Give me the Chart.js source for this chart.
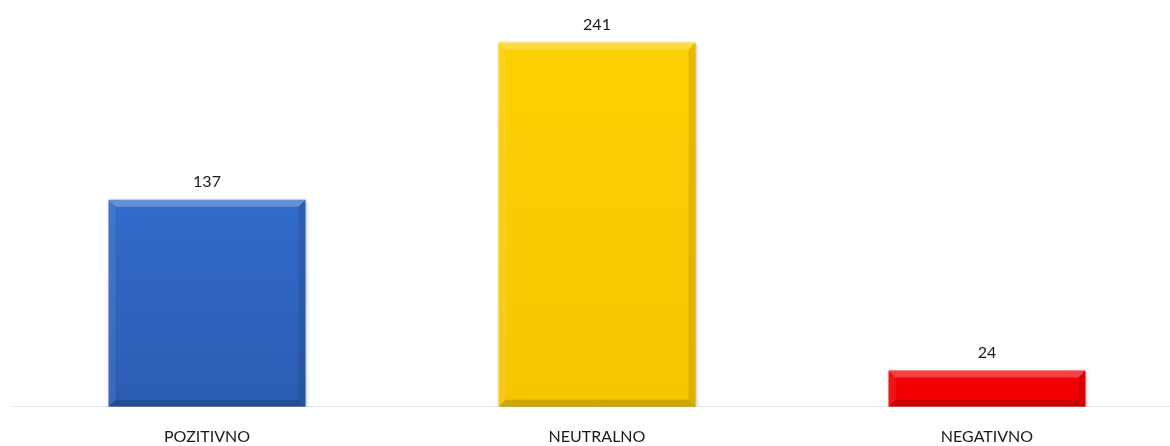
<!DOCTYPE html>
<html>
<head>
<meta charset="utf-8">
<script src="https://cdn.jsdelivr.net/npm/chart.js@4.4.1/dist/chart.umd.min.js"></script>
<style>
    html, body { margin: 0; padding: 0; background: #fff; overflow: hidden; }
    #wrap { width: 1182px; height: 466px; }
</style>
</head>
<body>
<div id="wrap"><canvas id="chart" width="1182" height="466"></canvas></div>
<script>
// --- Data ---
const categories = ['POZITIVNO', 'NEUTRALNO', 'NEGATIVNO'];
const counts = [137, 241, 24];
const barColors = [
    { top: '#3877df', bottom: '#2b5cb2' },
    { top: '#ffd000', bottom: '#f7c500' },
    { top: '#ff1212', bottom: '#f00000' }
];

const FONT = 'Lato, "Open Sans", sans-serif';

// Gradient per bar over the plot height
function barGradient(ctx) {
    const chart = ctx.chart;
    const c = barColors[ctx.dataIndex];
    const area = chart.chartArea;
    if (!area || !c) return c ? c.top : '#888';
    const g = chart.ctx.createLinearGradient(0, area.top, 0, area.bottom);
    g.addColorStop(0, c.top);
    g.addColorStop(1, c.bottom);
    return g;
}

// --- Bevel + shadow on bars ---
const bevelPlugin = {
    id: 'bevel',
    beforeDatasetDraw(chart) {
        const ctx = chart.ctx;
        ctx.save();
        ctx.shadowColor = 'rgba(0,0,0,0.35)';
        ctx.shadowBlur = 4;
        ctx.shadowOffsetX = 1;
        ctx.shadowOffsetY = 1;
    },
    afterDatasetDraw(chart) {
        const ctx = chart.ctx;
        ctx.restore();
        const meta = chart.getDatasetMeta(0);
        const b = 7; // bevel size
        meta.data.forEach((bar) => {
            const { x, y, base, width } = bar.getProps(['x', 'y', 'base', 'width'], true);
            const l = x - width / 2, r = x + width / 2, t = y, btm = base;
            const bb = Math.min(b, (btm - t) / 2);
            ctx.save();
            // top highlight
            ctx.fillStyle = 'rgba(255,255,255,0.25)';
            ctx.beginPath();
            ctx.moveTo(l, t); ctx.lineTo(r, t); ctx.lineTo(r - bb, t + bb); ctx.lineTo(l + bb, t + bb);
            ctx.closePath(); ctx.fill();
            // left highlight
            ctx.fillStyle = 'rgba(255,255,255,0.08)';
            ctx.beginPath();
            ctx.moveTo(l, t); ctx.lineTo(l + bb, t + bb); ctx.lineTo(l + bb, btm - bb); ctx.lineTo(l, btm);
            ctx.closePath(); ctx.fill();
            // right shade
            ctx.fillStyle = 'rgba(0,0,0,0.10)';
            ctx.beginPath();
            ctx.moveTo(r, t); ctx.lineTo(r, btm); ctx.lineTo(r - bb, btm - bb); ctx.lineTo(r - bb, t + bb);
            ctx.closePath(); ctx.fill();
            // bottom shade
            ctx.fillStyle = 'rgba(0,0,0,0.16)';
            ctx.beginPath();
            ctx.moveTo(l, btm); ctx.lineTo(r, btm); ctx.lineTo(r - bb, btm - bb); ctx.lineTo(l + bb, btm - bb);
            ctx.closePath(); ctx.fill();
            ctx.restore();
        });
    }
};

// --- Value labels above bars ---
const valueLabels = {
    id: 'valueLabels',
    afterDatasetsDraw(chart) {
        const ctx = chart.ctx;
        const meta = chart.getDatasetMeta(0);
        ctx.save();
        ctx.font = '16px ' + FONT;
        ctx.fillStyle = '#1a1a1a';
        ctx.textAlign = 'center';
        ctx.textBaseline = 'middle';
        meta.data.forEach((bar, i) => {
            ctx.fillText(String(counts[i]), bar.x, bar.y - 18);
        });
        ctx.restore();
    }
};

new Chart(document.getElementById('chart'), {
    type: 'bar',
    data: {
        labels: categories,
        datasets: [{
            data: counts,
            backgroundColor: barGradient,
            borderWidth: 0,
            categoryPercentage: 1,
            barPercentage: 0.505
        }]
    },
    options: {
        responsive: false,
        animation: false,
        layout: { padding: { top: 29, left: 12, right: 0, bottom: 0 } },
        plugins: { legend: { display: false }, tooltip: { enabled: false } },
        scales: {
            x: {
                grid: { display: false, drawTicks: false },
                border: { display: true, color: '#e6e6e6', width: 1 },
                ticks: {
                    padding: 20,
                    color: '#1a1a1a',
                    font: { family: FONT, size: 16 }
                }
            },
            y: {
                display: false,
                min: 0,
                max: 250
            }
        }
    },
    plugins: [bevelPlugin, valueLabels]
});
</script>
</body>
</html>
